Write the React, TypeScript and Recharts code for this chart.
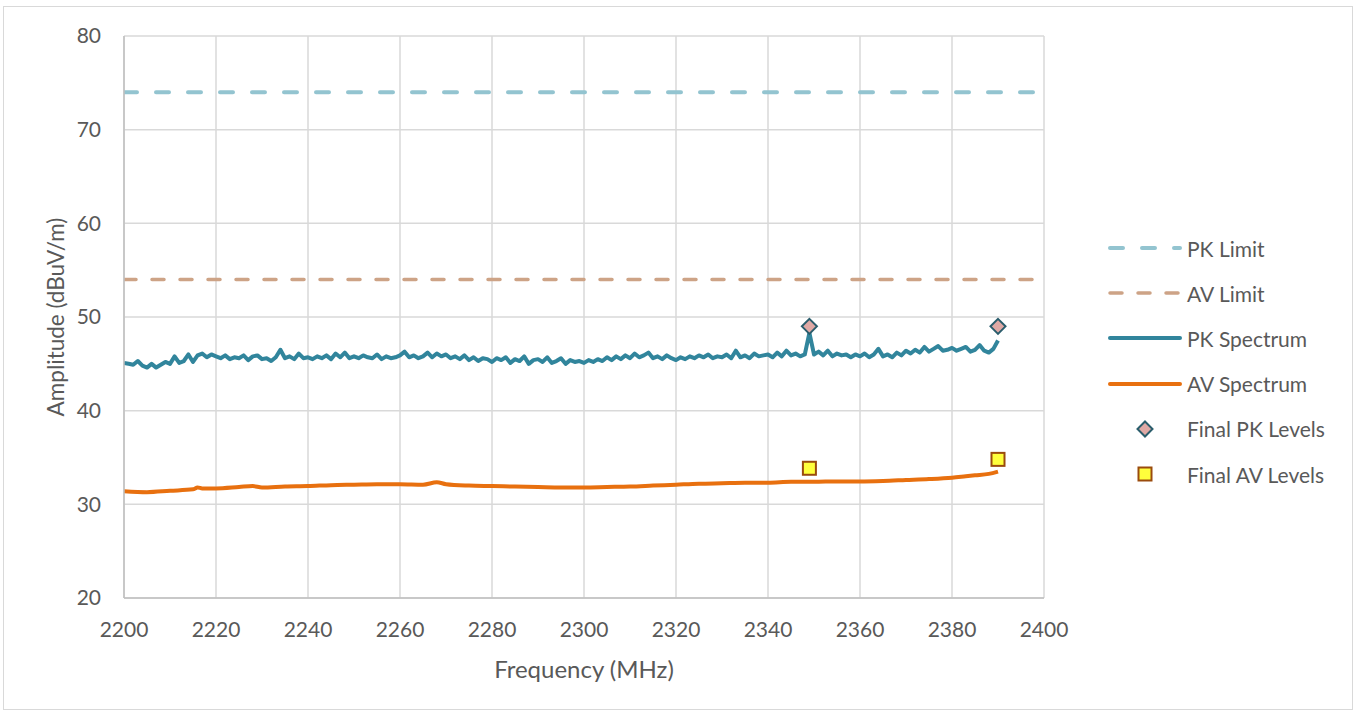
import { ComposedChart, Line, Scatter, XAxis, YAxis, CartesianGrid, Legend } from "recharts";

const xTicks = [2200, 2220, 2240, 2260, 2280, 2300, 2320, 2340, 2360, 2380, 2400];
const minorTicks = [2210, 2230, 2250, 2270, 2290, 2310, 2330, 2350, 2370, 2390];
const yTicks = [20, 30, 40, 50, 60, 70, 80];

const limitFreqs = [2200, 2400];
const pkLimit = 74;
const avLimit = 54;

// peak sweep, one reading per MHz from 2200
const pkStartMHz = 2200;
const pkLevels = [
  45.1, 45.0, 44.9, 45.3, 44.8, 44.6, 45.0, 44.6, 44.9, 45.2,
  45.0, 45.8, 45.1, 45.3, 46.0, 45.2, 45.9, 46.1, 45.7, 46.0,
  45.8, 45.6, 45.9, 45.5, 45.7, 45.6, 45.9, 45.4, 45.8, 45.9,
  45.5, 45.6, 45.3, 45.7, 46.5, 45.6, 45.8, 45.5, 46.1, 45.6,
  45.7, 45.5, 45.8, 45.6, 45.9, 45.5, 46.1, 45.7, 46.2, 45.6,
  45.8, 45.6, 45.9, 45.7, 45.6, 46.0, 45.5, 45.8, 45.6, 45.7,
  45.9, 46.3, 45.7, 45.9, 45.6, 45.8, 46.2, 45.7, 46.1, 45.8,
  46.0, 45.6, 45.8, 45.5, 45.9, 45.4, 45.7, 45.3, 45.6, 45.5,
  45.2, 45.6, 45.4, 45.7, 45.1, 45.5, 45.3, 45.8, 45.0, 45.4,
  45.5, 45.2, 45.7, 45.1, 45.3, 45.6, 45.0, 45.4, 45.2, 45.3,
  45.1, 45.4, 45.2, 45.5, 45.3, 45.7, 45.4, 45.8, 45.5, 45.9,
  45.6, 46.1, 45.7, 45.9, 46.2, 45.6, 45.8, 45.5, 45.9, 45.6,
  45.4, 45.7, 45.5, 45.8, 45.6, 45.9, 45.7, 46.0, 45.6, 45.8,
  45.7, 46.0, 45.6, 46.4, 45.7, 45.9, 45.6, 46.1, 45.8, 45.9,
  46.0, 45.7, 46.2, 45.8, 46.4, 45.9, 46.1, 45.8, 46.0, 48.3,
  46.0, 46.3, 45.9, 46.4, 45.8, 46.1, 45.9, 46.0, 45.7, 46.0,
  45.8, 46.1, 45.7, 46.0, 46.6, 45.8, 46.0, 45.7, 46.2, 45.9,
  46.4, 46.1, 46.5, 46.2, 46.8, 46.3, 46.6, 46.9, 46.4, 46.5,
  46.7, 46.4, 46.6, 46.8, 46.3, 46.5, 47.0, 46.4, 46.2, 46.6,
  47.5,
];

const avFreqs = [
  2200, 2205, 2210, 2215, 2216, 2217, 2220, 2225, 2228, 2230, 2235, 2240, 2245, 2250, 2255,
  2260, 2265, 2268, 2270, 2275, 2280, 2285, 2290, 2295, 2300, 2305, 2310, 2315, 2320, 2325,
  2330, 2335, 2340, 2345, 2350, 2355, 2360, 2365, 2370, 2375, 2380, 2383, 2385, 2388, 2390,
];
const avLevels = [
  31.4, 31.3, 31.45, 31.6, 31.8, 31.7, 31.7, 31.85, 31.95, 31.8, 31.9, 31.95, 32.05, 32.1, 32.15,
  32.15, 32.1, 32.35, 32.15, 32.0, 31.95, 31.9, 31.85, 31.8, 31.8, 31.85, 31.9, 32.0, 32.1, 32.2,
  32.25, 32.3, 32.3, 32.4, 32.4, 32.45, 32.45, 32.5, 32.6, 32.7, 32.85, 33.0, 33.1, 33.25, 33.5,
];

const finalPkFreqs = [2349, 2390];
const finalPkLevels = [49.0, 49.0];
const finalAvFreqs = [2349, 2390];
const finalAvLevels = [33.85, 34.8];

const C = {
  pkLimit: "#93C4D0",
  avLimit: "#CDA386",
  pk: "#31859C",
  av: "#E8700F",
  diamondFill: "#DFA9A5",
  diamondStroke: "#2A5D6C",
  squareFill: "#FFFF3C",
  squareStroke: "#9A4B0D",
  text: "#595959",
  grid: "#D9D9D9",
  axis: "#BFBFBF",
};

const FONT = "Lato, 'Open Sans', sans-serif";

const toPoints = (xs: number[], ys: number[]) => xs.map((x, i) => ({ x, y: ys[i] }));

const pkData = pkLevels.map((y, i) => ({ x: pkStartMHz + i, y }));
const avData = toPoints(avFreqs, avLevels);
const pkLimitData = limitFreqs.map((x) => ({ x, y: pkLimit }));
const avLimitData = limitFreqs.map((x) => ({ x, y: avLimit }));
const finalPkData = toPoints(finalPkFreqs, finalPkLevels);
const finalAvData = toPoints(finalAvFreqs, finalAvLevels);

const Diamond = (props: any) => {
  const { cx, cy } = props;
  const r = 7.5;
  return (
    <path
      d={`M${cx},${cy - r}L${cx + r},${cy}L${cx},${cy + r}L${cx - r},${cy}Z`}
      fill={C.diamondFill}
      stroke={C.diamondStroke}
      strokeWidth={2}
    />
  );
};

const Square = (props: any) => {
  const { cx, cy } = props;
  return (
    <rect x={cx - 6.5} y={cy - 6.5} width={13} height={13} fill={C.squareFill} stroke={C.squareStroke} strokeWidth={2} />
  );
};

const legendItems = [
  { name: "PK Limit", kind: "line", color: C.pkLimit, dash: "13 19", width: 4 },
  { name: "AV Limit", kind: "line", color: C.avLimit, dash: "12 16", width: 3.5 },
  { name: "PK Spectrum", kind: "line", color: C.pk, dash: undefined, width: 4 },
  { name: "AV Spectrum", kind: "line", color: C.av, dash: undefined, width: 4 },
  { name: "Final PK Levels", kind: "diamond", color: C.diamondFill },
  { name: "Final AV Levels", kind: "square", color: C.squareFill },
];

const renderLegend = () => (
  <div style={{ fontFamily: FONT, fontSize: 21, color: C.text }}>
    {legendItems.map((it) => (
      <div key={it.name} style={{ height: 45.2, display: "flex", alignItems: "center" }}>
        <svg width={79} height={20} style={{ flex: "none" }}>
          {it.kind === "line" && (
            <line x1={2} y1={10} x2={72} y2={10} stroke={it.color} strokeWidth={it.width} strokeDasharray={it.dash} strokeLinecap="round" />
          )}
          {it.kind === "diamond" && <Diamond cx={37} cy={10} />}
          {it.kind === "square" && <Square cx={37} cy={10} />}
        </svg>
        <span style={{ whiteSpace: "nowrap" }}>{it.name}</span>
      </div>
    ))}
  </div>
);

const YTitle = (props: any) => {
  const { viewBox } = props;
  const cx = 55;
  const cy = viewBox.y + viewBox.height / 2;
  return (
    <text
      x={cx}
      y={cy}
      transform={`rotate(-90 ${cx} ${cy})`}
      textAnchor="middle"
      dominantBaseline="central"
      fill={C.text}
      fontSize={22.5}
      fontFamily={FONT}
    >
      Amplitude (dBuV/m)
    </text>
  );
};

const XTitle = (props: any) => {
  const { viewBox } = props;
  return (
    <text
      x={viewBox.x + viewBox.width / 2}
      y={viewBox.y + 70}
      textAnchor="middle"
      dominantBaseline="central"
      fill={C.text}
      fontSize={24}
      fontFamily={FONT}
    >
      Frequency (MHz)
    </text>
  );
};

export default function App() {
  return (
    <div style={{ position: "absolute", left: 0, top: 0, width: 1356, height: 713, background: "#fff" }}>
      <div
        style={{
          position: "absolute",
          left: 3,
          top: 6,
          width: 1348,
          height: 702,
          border: `1px solid ${C.grid}`,
        }}
      />
      <ComposedChart width={1356} height={713} margin={{ top: 36, right: 312, bottom: 25, left: 0 }}>
        <CartesianGrid stroke={C.grid} strokeWidth={1.5} />
        <XAxis
          dataKey="x"
          type="number"
          domain={[2200, 2400]}
          ticks={xTicks}
          height={90}
          tickLine={false}
          tickSize={0}
          tickMargin={24}
          axisLine={{ stroke: C.axis, strokeWidth: 1.5 }}
          tick={{ fill: C.text, fontSize: 21, fontFamily: FONT }}
          label={{ content: XTitle }}
          allowDataOverflow
        />
        <XAxis
          xAxisId="minor"
          dataKey="x"
          type="number"
          domain={[2200, 2400]}
          ticks={minorTicks}
          orientation="bottom"
          mirror
          height={5}
          tickSize={5}
          tickLine={{ stroke: C.axis, strokeWidth: 1.5 }}
          axisLine={false}
          tick={() => <g />}
        />
        <YAxis
          type="number"
          domain={[20, 80]}
          ticks={yTicks}
          width={124}
          tickLine={false}
          tickSize={0}
          tickMargin={23}
          axisLine={{ stroke: C.axis, strokeWidth: 1.5 }}
          tick={{ fill: C.text, fontSize: 21, fontFamily: FONT }}
          label={{ content: YTitle }}
        />
        <Legend
          content={renderLegend}
          layout="vertical"
          align="center"
          verticalAlign="middle"
          wrapperStyle={{ left: 1108, top: 225.5, width: 240 }}
        />
        <Line name="PK Limit" data={pkLimitData} dataKey="y" stroke={C.pkLimit} strokeWidth={4} strokeDasharray="13 19" strokeLinecap="round" dot={false} isAnimationActive={false} />
        <Line name="AV Limit" data={avLimitData} dataKey="y" stroke={C.avLimit} strokeWidth={3.5} strokeDasharray="12 16" strokeLinecap="round" dot={false} isAnimationActive={false} />
        <Line name="PK Spectrum" data={pkData} dataKey="y" stroke={C.pk} strokeWidth={4} strokeLinejoin="round" dot={false} isAnimationActive={false} />
        <Line name="AV Spectrum" data={avData} dataKey="y" type="monotone" stroke={C.av} strokeWidth={4} strokeLinejoin="round" dot={false} isAnimationActive={false} />
        <Scatter name="Final PK Levels" data={finalPkData} dataKey="y" shape={Diamond} isAnimationActive={false} />
        <Scatter name="Final AV Levels" data={finalAvData} dataKey="y" shape={Square} isAnimationActive={false} />
      </ComposedChart>
    </div>
  );
}
